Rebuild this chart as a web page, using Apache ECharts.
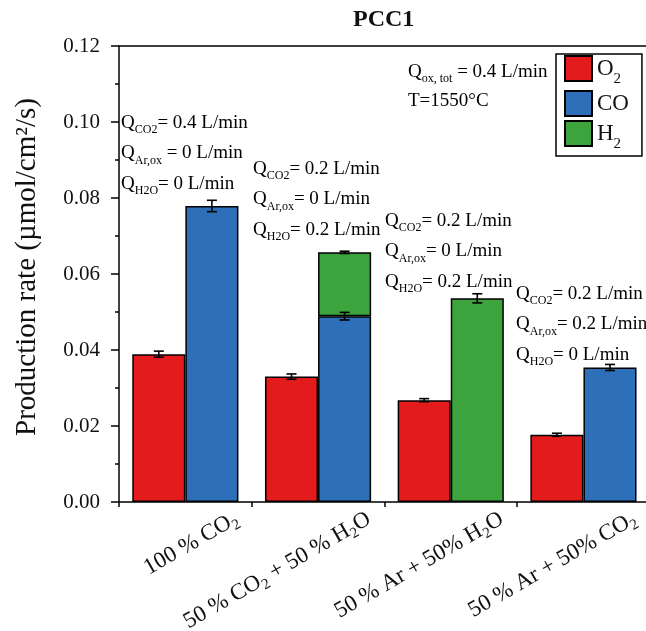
<!DOCTYPE html>
<html>
<head>
<meta charset="utf-8">
<script src="https://cdn.jsdelivr.net/npm/echarts@6/dist/echarts.min.js"></script>
<style>html,body{margin:0;padding:0;background:#fff;}#c{width:646px;height:631px;}</style>
</head>
<body>
<div id="c"></div>
<script>
// ---- data ----
const categories = ['100 % CO2', '50 % CO2 + 50 % H2O', '50 % Ar + 50% H2O', '50 % Ar + 50% CO2'];
const categoryRich = [
  '{n|100 % CO}{s|2}',
  '{n|50 % CO}{s|2}{n| + 50 % H}{s|2}{n|O}',
  '{n|50 % Ar + 50% H}{s|2}{n|O}',
  '{n|50 % Ar + 50% CO}{s|2}'
];
const o2Values = [0.0389, 0.0330, 0.0268, 0.0177];
const o2Errors = [0.0008, 0.0007, 0.0004, 0.0004];
const coValues = [0.0779, 0.0489, null, 0.0354];
const coErrors = [0.0015, 0.0010, null, 0.0008];
const h2Values = [null, 0.0168, 0.0536, null];
const h2Errors = [null, 0.0003, 0.0012, null];
const yTicks = { min: 0, max: 0.12, interval: 0.02 };

// ---- style ----
const FONT = "'Liberation Serif', 'Times New Roman', serif";
const RED = '#e41b1d', BLUE = '#2e6fba', GREEN = '#3da33d';
const GAP = 0.20;

const chart = echarts.init(document.getElementById('c'), null, { renderer: 'canvas' });

function errData(vals, errs, base, slot) {
  const out = [];
  vals.forEach((v, i) => {
    if (v == null || errs[i] == null) return;
    const top = (base && base[i] != null ? base[i] : 0) + v;
    out.push([i, top, errs[i], slot]);
  });
  return out;
}
function renderErr(params, api) {
  const cat = api.value(0), top = api.value(1), err = api.value(2), slot = api.value(3);
  const band = api.size([1, 0])[0];
  const barW = band * (1 - GAP) / 2;
  const cx = api.coord([cat, top])[0] + (slot === 0 ? -barW / 2 : barW / 2);
  const yHi = api.coord([cat, top + err])[1];
  const yLo = api.coord([cat, top - err])[1];
  const cap = 5;
  const st = { stroke: '#000', lineWidth: 1.6 };
  return {
    type: 'group',
    children: [
      { type: 'line', shape: { x1: cx, y1: yHi, x2: cx, y2: yLo }, style: st },
      { type: 'line', shape: { x1: cx - cap, y1: yHi, x2: cx + cap, y2: yHi }, style: st },
      { type: 'line', shape: { x1: cx - cap, y1: yLo, x2: cx + cap, y2: yLo }, style: st }
    ]
  };
}

const annRich = {
  q: { fontFamily: FONT, fontSize: 19, color: '#111', verticalAlign: 'middle' },
  s: { fontFamily: FONT, fontSize: 12, color: '#111', padding: [14, 0, 0, 0] }
};
function ann(x, y, txt) {
  return { type: 'text', x: x, y: y, z: 50,
    style: { text: txt, rich: annRich, verticalAlign: 'middle', align: 'left', font: '19px ' + FONT } };
}
const annotations = [
  ['{q|Q}{s|CO2}{q|= 0.4 L/min}', '{q|Q}{s|Ar,ox}{q| = 0 L/min}', '{q|Q}{s|H2O}{q|= 0 L/min}'],
  ['{q|Q}{s|CO2}{q|= 0.2 L/min}', '{q|Q}{s|Ar,ox}{q|= 0 L/min}', '{q|Q}{s|H2O}{q|= 0.2 L/min}'],
  ['{q|Q}{s|CO2}{q|= 0.2 L/min}', '{q|Q}{s|Ar,ox}{q|= 0 L/min}', '{q|Q}{s|H2O}{q|= 0.2 L/min}'],
  ['{q|Q}{s|CO2}{q|= 0.2 L/min}', '{q|Q}{s|Ar,ox}{q|= 0.2 L/min}', '{q|Q}{s|H2O}{q|= 0 L/min}']
];
const annPos = [[121, 123], [253, 169], [385, 221], [516, 294]];
const graphics = [];
annotations.forEach((lines, g) => {
  lines.forEach((t, k) => graphics.push(ann(annPos[g][0], annPos[g][1] + k * 30.5, t)));
});
graphics.push(ann(408, 72, '{q|Q}{s|ox, tot}{q| = 0.4 L/min}'));
graphics.push(ann(408, 101, '{q|T=1550°C}'));

const legendRich = {
  n: { fontFamily: FONT, fontSize: 23, color: '#111', verticalAlign: 'middle' },
  s: { fontFamily: FONT, fontSize: 15, color: '#111', padding: [22, 0, 0, 0] }
};
const legendNames = { 'O2': '{n|O}{s|2}', 'CO': '{n|CO}', 'H2': '{n|H}{s|2}' };

const barBorder = { borderColor: '#000', borderWidth: 1.5 };

chart.setOption({
  animation: false,
  backgroundColor: '#fff',
  title: { text: 'PCC1', left: 348, top: 3,
    textStyle: { fontFamily: FONT, fontSize: 24, fontWeight: 'bold', color: '#111' } },
  grid: { left: 119, top: 46, right: -136.5, bottom: 129, outerBoundsMode: 'none', containLabel: false },
  legend: {
    data: ['O2', 'CO', 'H2'], orient: 'vertical', left: 556, top: 54,
    itemWidth: 27, itemHeight: 25, itemGap: 3, padding: [1, 13, 4, 8],
    borderColor: '#000', borderWidth: 1.5, icon: 'rect',
    formatter: (n) => legendNames[n], textStyle: { rich: legendRich }
  },
  xAxis: [{
    type: 'category', data: categories, max: categories.length,
    axisLine: { lineStyle: { color: '#000', width: 1.5 } },
    axisTick: { show: true, length: 5, lineStyle: { color: '#000', width: 1.5 } },
    axisLabel: {
      interval: 0, rotate: 30, margin: 45, padding: [0, -59, 0, 0], hideOverlap: false,
      formatter: (v, i) => (i < categoryRich.length ? categoryRich[i] : ''),
      rich: {
        n: { fontFamily: FONT, fontSize: 23, color: '#111', verticalAlign: 'middle' },
        s: { fontFamily: FONT, fontSize: 15, color: '#111', padding: [13, 0, 0, 0] }
      }
    },
    splitLine: { show: false }
  }, {
    type: 'category', position: 'top', data: categories, max: categories.length,
    axisLine: { lineStyle: { color: '#000', width: 1.5 } },
    axisTick: { show: false }, axisLabel: { show: false }
  }],
  yAxis: {
    type: 'value', min: yTicks.min, max: yTicks.max, interval: yTicks.interval,
    name: 'Production rate (µmol/cm²/s)', nameLocation: 'middle', nameGap: 77,
    nameTextStyle: { fontFamily: FONT, fontSize: 29, color: '#111', padding: [0, 0, 0, 14] },
    axisLine: { show: true, lineStyle: { color: '#000', width: 1.5 } },
    axisTick: { show: true, length: 8, lineStyle: { color: '#000', width: 1.5 } },
    minorTick: { show: true, splitNumber: 2, length: 4, lineStyle: { color: '#000', width: 1.5 } },
    axisLabel: { margin: 19, fontFamily: FONT, fontSize: 21, color: '#111',
      formatter: (v) => v.toFixed(2) },
    splitLine: { show: false }
  },
  series: [
    { name: 'O2', type: 'bar', stack: 'o2', data: o2Values, barGap: '0%', barCategoryGap: (GAP * 100) + '%',
      itemStyle: Object.assign({ color: RED }, barBorder) },
    { name: 'CO', type: 'bar', stack: 'fuel', data: coValues,
      itemStyle: Object.assign({ color: BLUE }, barBorder) },
    { name: 'H2', type: 'bar', stack: 'fuel', data: h2Values,
      itemStyle: Object.assign({ color: GREEN }, barBorder) },
    { type: 'custom', renderItem: renderErr, z: 10, silent: true,
      data: [].concat(errData(o2Values, o2Errors, null, 0),
                      errData(coValues, coErrors, null, 1),
                      errData(h2Values, h2Errors, coValues, 1)) }
  ],
  graphic: graphics
});
</script>
</body>
</html>
